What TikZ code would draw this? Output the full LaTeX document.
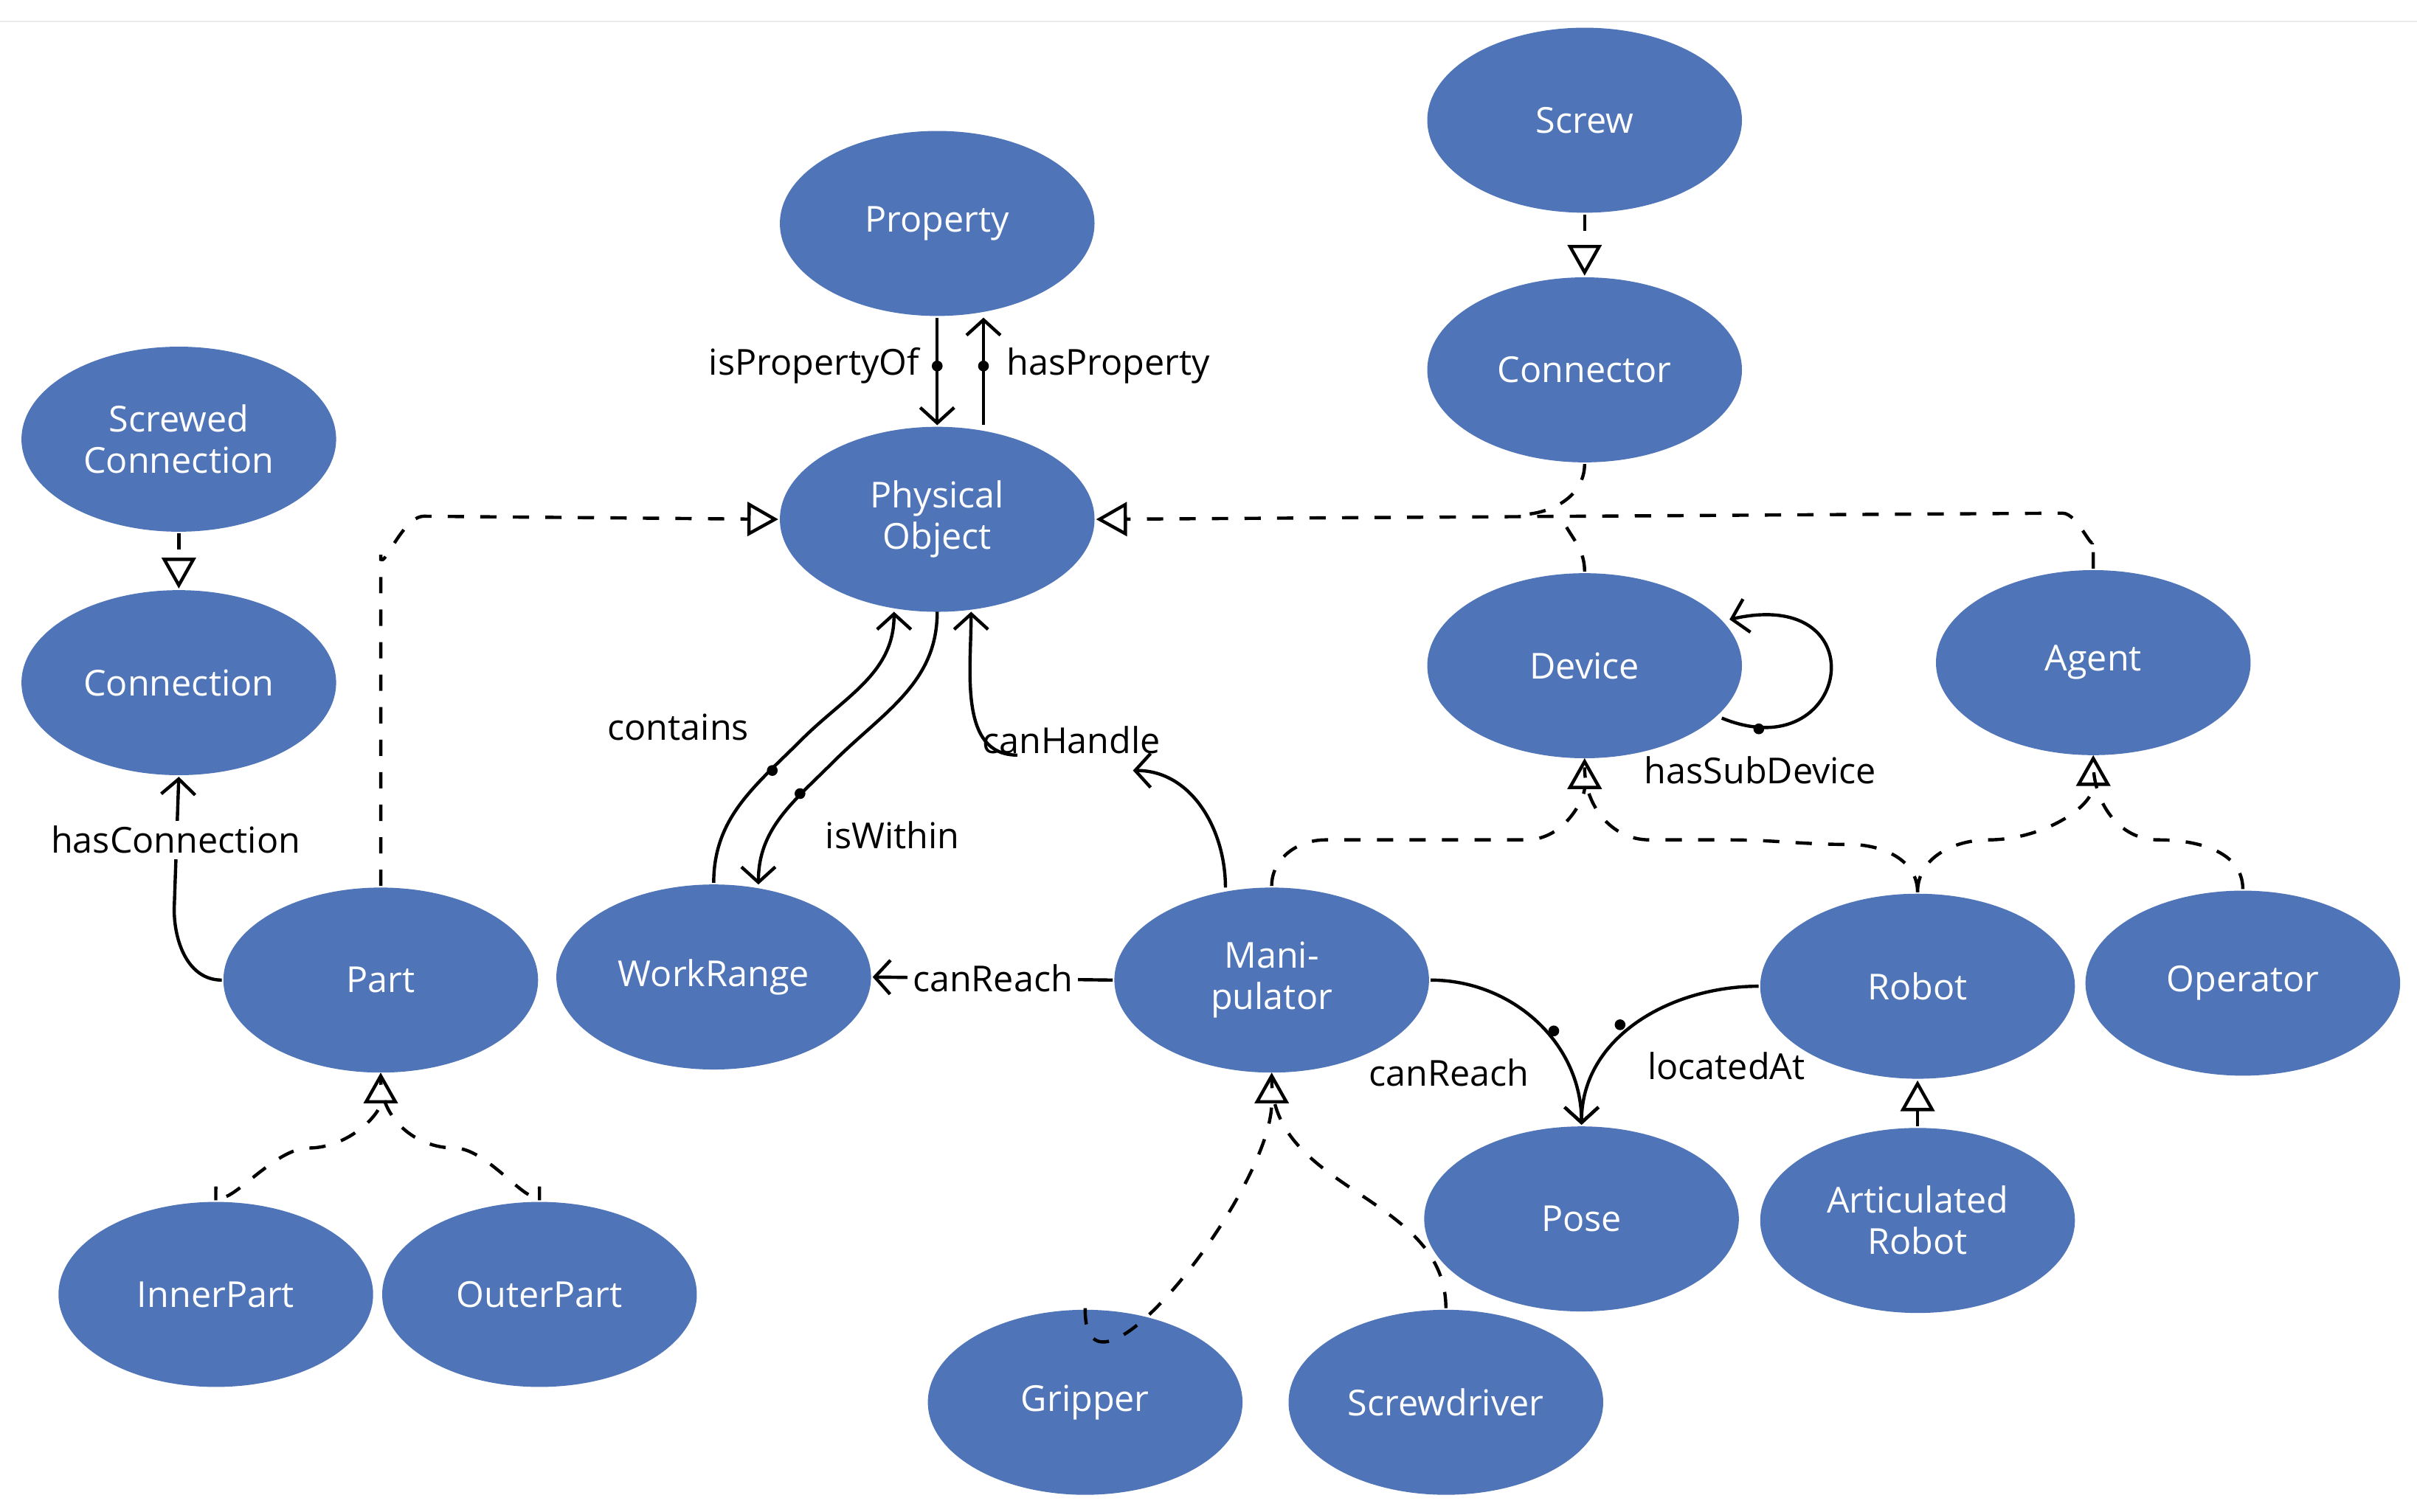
\documentclass[tikz,border=0pt]{standalone}
\usepackage{fontspec}
\setmainfont{Open Sans}
\usetikzlibrary{arrows.meta,shapes.geometric}
\definecolor{nodeblue}{HTML}{4F74B8}
\begin{document}
\begin{tikzpicture}[x=0.01cm,y=-0.01cm,line width=0.6pt,
  cls/.style={ellipse,fill=nodeblue,text=white,minimum width=2.04cm,minimum height=1.2cm,inner sep=0pt,align=center,font=\fontsize{6.6pt}{7.6pt}\selectfont},
  lbl/.style={font=\fontsize{6.6pt}{7.6pt}\selectfont,inner sep=1pt},
  isa/.style={dashed,-{Triangle[open,length=0.2cm,width=0.22cm]}},
  rel/.style={-{Straight Barb[length=0.1cm,width=0.22cm]}},
  dot/.style={circle,fill=black,inner sep=0pt,minimum size=0.07cm}]
\useasboundingbox (0,0) rectangle (1568,981);
\draw[gray!15,line width=0.3pt] (0,14) -- (1568,14);
\node[cls] (prop) at (608,145) {Property};
\node[cls] (screw) at (1028,78) {Screw};
\node[cls] (conn) at (1028,240) {Connector};
\node[cls] (po) at (608,337) {Physical\\Object};
\node[cls] (sc) at (116,285) {Screwed\\Connection};
\node[cls] (cn) at (116,443) {Connection};
\node[cls] (dev) at (1028,432) {Device};
\node[cls] (agent) at (1358,430) {Agent};
\node[cls] (part) at (247,636) {Part};
\node[cls] (wr) at (463,634) {WorkRange};
\node[cls] (man) at (825,636) {Mani-\\pulator};
\node[cls] (robot) at (1244,640) {Robot};
\node[cls] (op) at (1455,638) {Operator};
\node[cls] (pose) at (1026,791) {Pose};
\node[cls] (ar) at (1244,792) {Articulated\\Robot};
\node[cls] (ip) at (140,840) {InnerPart};
\node[cls] (opart) at (350,840) {OuterPart};
\node[cls] (grip) at (704,910) {Gripper};
\node[cls] (sd) at (938,910) {Screwdriver};
% is-a
\draw[isa] (screw) -- (conn);
\draw[isa] (sc) -- (cn);
\draw[isa] (agent.north) -- (1358,350) to[out=-90,in=0] (1338,333) -- (po.east);
\draw[dashed] (conn.south) to[out=-90,in=0] (985,334);
\draw[dashed] (dev.north) to[out=90,in=-60] (1015,340);
\draw[isa] (part.north) -- (247,360) to[out=-90,in=180] (275,335) -- (po.west);
\draw[isa] (ip.north) -- (140,770) to[out=-90,in=180] (200,745) to[out=0,in=-90] (247,696);
\draw[dashed] (opart.north) -- (350,770) to[out=-90,in=0] (295,745) to[out=180,in=-90] (247,700);
\draw[isa] (grip.north) -- (704,850) to[out=-90,in=-90] (825,696);
\draw[dashed] (sd.north) to[out=90,in=-90] (825,700);
\draw[isa] (man.north) to[out=90,in=180] (860,545) -- (990,545) to[out=0,in=-90] (1028,492);
\draw[dashed] (robot.north) to[out=90,in=0] (1200,548) to[out=180,in=0] (1120,545) -- (1070,545) to[out=180,in=-90] (1028,498);
\draw[isa] (robot.north) to[out=90,in=180] (1290,545) to[out=0,in=-90] (1358,490);
\draw[dashed] (op.north) to[out=90,in=0] (1400,545) to[out=180,in=-90] (1358,495);
\draw[isa] (ar) -- (robot);
% relations
\draw[rel] (prop.south) -- (po.north) node[pos=0.45,dot]{} node[pos=0.45,left=2pt,lbl]{isPropertyOf};
\draw[rel] ([xshift=0.3cm]po.north) -- ([xshift=0.3cm]prop.south) node[pos=0.55,dot]{} node[pos=0.55,right=3pt,lbl]{hasProperty};
\draw[rel] (part.west) to[out=180,in=-90] (113,590) -- (cn.south);
\node[lbl,fill=white] (hc) at (114,545) {hasConnection};
\draw[rel] (wr.north) to[out=90,in=-135] (520,480) to[out=45,in=-90] (580,397);
\node[dot] at (501,500) {};
\node[lbl] (ct) at (440,472) {contains};
\draw[rel] (608,397) to[out=-90,in=45] (540,495) to[out=-135,in=90] (492,574);
\node[dot] at (519,515) {};
\node[lbl] (iw) at (579,542) {isWithin};
\draw[rel] (795,576) to[out=90,in=0] (735,500);
\draw[rel] (660,490) to[out=180,in=-90] (630,397);
\node[lbl] (ch) at (695,480) {canHandle};
\draw[rel] (man.west) -- (wr.east) node[midway,fill=white,lbl]{canReach};
\draw[rel] (man.east) to[out=0,in=90] (pose.north);
\node[dot] at (1008,669) {};
\node[lbl] (cr2) at (940,696) {canReach};
\draw[rel] (robot.west) to[out=180,in=90] (pose.north);
\node[dot] at (1051,665) {};
\node[lbl] (la) at (1120,692) {locatedAt};
\draw[rel] (1117,466) .. controls (1200,500) and (1220,380) .. (1122,402);
\node[dot] at (1141,473) {};
\node[lbl] (hsd) at (1142,500) {hasSubDevice};
\end{tikzpicture}
\end{document}
